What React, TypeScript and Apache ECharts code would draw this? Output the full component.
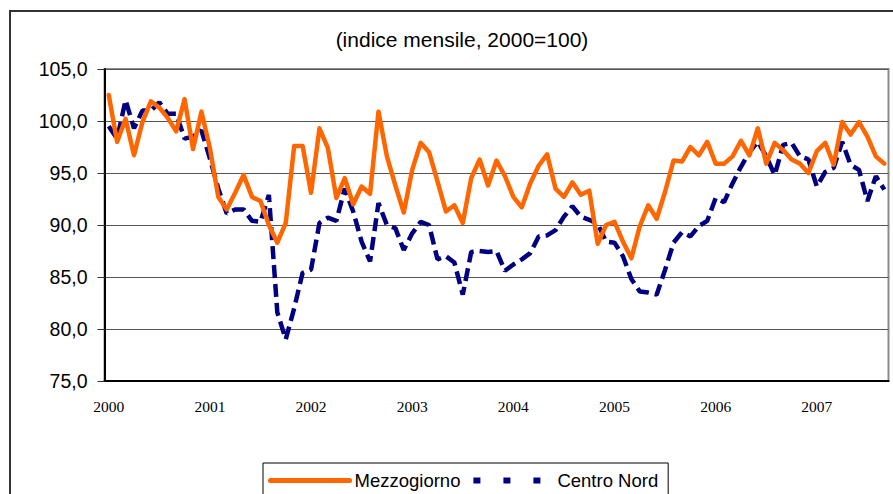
import React, { useEffect, useRef } from "react";
import * as echarts from "echarts";

const titleText = "(indice mensile, 2000=100)";
const years = ["2000", "2001", "2002", "2003", "2004", "2005", "2006", "2007"];
const monthCount = 93; // Jan 2000 .. Sep 2007

const mezzogiorno = [
  102.5, 98.0, 100.2, 96.7, 99.9, 101.9, 101.3, 100.3, 99.0, 102.1, 97.3, 100.9,
  97.4, 92.7, 91.5, 93.1, 94.8, 92.7, 92.3, 90.0, 88.3, 90.2, 97.6, 97.6,
  93.1, 99.3, 97.4, 92.6, 94.5, 92.0, 93.7, 93.0, 100.9, 96.6, 93.8, 91.2,
  95.3, 97.9, 97.0, 94.2, 91.3, 91.9, 90.2, 94.5, 96.3, 93.8, 96.2, 94.7,
  92.7, 91.7, 94.0, 95.7, 96.8, 93.5, 92.7, 94.1, 92.9, 93.3, 88.2, 90.0,
  90.3, 88.4, 86.8, 89.9, 91.9, 90.6, 93.2, 96.2, 96.1, 97.5, 96.7, 98.0,
  95.9, 95.9, 96.6, 98.1, 96.7, 99.3, 95.9, 97.9, 97.2, 96.3, 95.9, 95.0,
  97.1, 97.9, 95.8, 99.9, 98.7, 99.9, 98.5, 96.6, 95.9,
];

const centroNord = [
  99.5, 98.3, 102.0, 99.3, 101.0, 101.0, 101.8, 100.7, 100.7, 98.3, 98.5, 99.1,
  96.4, 93.5, 91.1, 91.5, 91.5, 90.4, 90.3, 92.9, 81.6, 79.0, 82.0, 85.4,
  85.7, 90.2, 90.7, 90.4, 93.5, 91.3, 88.4, 86.5, 92.1, 90.0, 89.7, 87.6,
  89.2, 90.3, 90.0, 86.7, 87.0, 86.4, 83.3, 87.4, 87.5, 87.4, 87.5, 85.6,
  86.2, 86.7, 87.3, 88.9, 89.0, 89.5, 90.8, 91.8, 90.8, 90.5, 90.1, 88.4,
  88.3, 87.0, 84.8, 83.6, 83.5, 83.3, 85.7, 88.3, 89.3, 88.9, 89.9, 90.4,
  92.6, 92.2, 94.0, 95.6, 97.0, 98.0, 96.6, 94.8, 97.7, 97.9, 96.6, 96.3,
  93.7, 95.1, 95.5, 98.0, 95.8, 95.3, 92.3, 94.7, 93.4,
];

const categories: string[] = [];
for (let i = 0; i < monthCount; i++) {
  const y = years[Math.floor(i / 12)];
  const m = String((i % 12) + 1).padStart(2, "0");
  categories.push(`${y}-${m}`);
}

const sans = "'Liberation Sans', Arial, sans-serif";
const serif = "'Liberation Serif', 'Times New Roman', serif";

export default function App() {
  const ref = useRef<HTMLDivElement>(null);
  useEffect(() => {
    if (!ref.current) return;
    const chart = echarts.init(ref.current, undefined, { renderer: "svg" });
    chart.setOption({
      animation: false,
      backgroundColor: "#ffffff",
      title: {
        text: titleText,
        left: 457,
        top: 24,
        textAlign: "center",
        textStyle: { fontSize: 21, fontWeight: "normal", fontFamily: sans, color: "#000" },
      },
      graphic: [
        {
          type: "rect",
          shape: { x: 10, y: 11, width: 1000, height: 1000 },
          style: { fill: "none", stroke: "#333", lineWidth: 2 },
          silent: true,
          z: -1,
        },
      ],
      grid: {
        left: 104.5,
        top: 69,
        width: 784,
        height: 312,
        show: true,
        borderColor: "#8c8c8c",
        borderWidth: 2,
        backgroundColor: "transparent",
      },
      legend: {
        left: 263,
        top: 463,
        padding: [8, 10, 14, 5],
        borderColor: "#000",
        borderWidth: 1,
        itemWidth: 79,
        itemHeight: 14,
        itemGap: 10,
        itemStyle: { opacity: 0 },
        textStyle: { fontSize: 18.5, fontFamily: sans, color: "#000" },
        data: [
          { name: "Mezzogiorno", itemStyle: { opacity: 0 }, lineStyle: { width: 5, cap: "round" } },
          { name: "Centro Nord", itemStyle: { opacity: 0 }, lineStyle: { type: [7, 23], width: 6 } },
        ],
      },
      xAxis: {
        type: "category",
        data: categories,
        boundaryGap: true,
        axisLine: { lineStyle: { color: "#000", width: 2 } },
        axisTick: { show: false },
        axisLabel: {
          interval: 11,
          margin: 17,
          fontSize: 15.5,
          fontFamily: serif,
          color: "#000",
          formatter: (v: string) => v.slice(0, 4),
        },
        splitLine: { show: false },
      },
      yAxis: {
        type: "value",
        min: 75,
        max: 105,
        interval: 5,
        axisLine: { show: true, lineStyle: { color: "#000", width: 2 } },
        axisTick: { show: true, length: 7, lineStyle: { color: "#333", width: 1 } },
        axisLabel: {
          margin: 17,
          fontSize: 19.5,
          fontFamily: sans,
          color: "#000",
          formatter: (v: number) => v.toFixed(1).replace(".", ","),
        },
        splitLine: { show: true, lineStyle: { color: "#555", width: 1 } },
      },
      series: [
        {
          name: "Mezzogiorno",
          type: "line",
          data: mezzogiorno,
          symbol: "none",
          z: 3,
          lineStyle: { color: "#FF6600", width: 4.5, join: "round", cap: "round" },
          itemStyle: { color: "#FF6600" },
        },
        {
          name: "Centro Nord",
          type: "line",
          data: centroNord,
          symbol: "none",
          z: 2,
          lineStyle: { color: "#000080", width: 4.5, type: [13, 6] },
          itemStyle: { color: "#000080" },
        },
      ],
    });
    return () => chart.dispose();
  }, []);
  return (
    <div
      ref={ref}
      style={{ position: "absolute", left: 0, top: 0, width: 893, height: 494, background: "#fff" }}
    />
  );
}
